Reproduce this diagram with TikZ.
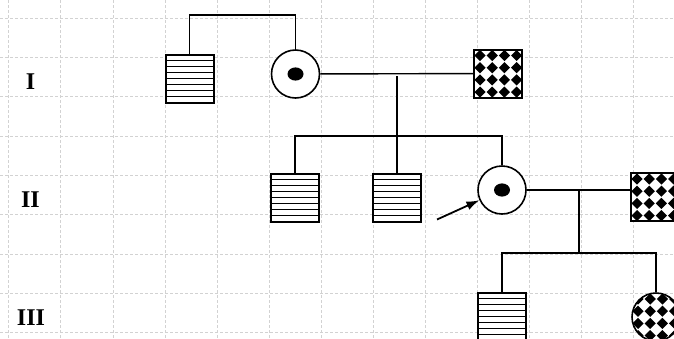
\documentclass[tikz,border=0pt]{standalone}
\usepackage{fontspec}
\setmainfont{Liberation Serif}
\usetikzlibrary{arrows.meta,calc}

\tikzstyle{gridline}=[
    gray!35,
    line width=0.5pt,
    dash pattern=on 3pt off 2pt,
  ]
\tikzstyle{male}=[
    draw,
    fill=white,
    line width=2pt,
    minimum size=48pt,
    inner sep=0pt,
  ]
\tikzstyle{female}=[
    draw,
    circle,
    fill=white,
    line width=1.6pt,
    minimum size=48pt,
    inner sep=0pt,
  ]
\tikzstyle{striped}=[
    path picture={
      \foreach \k in {1,...,7} {
        \draw[black, line width=1.1pt]
          ([yshift=-\k*6.05pt]path picture bounding box.north west) --
          ([yshift=-\k*6.05pt]path picture bounding box.north east);
      }
    },
  ]
\tikzstyle{checkered}=[
    path picture={
      \foreach \i in {0,...,3} {
        \foreach \j in {0,...,3} {
          \coordinate (c) at ([xshift=6pt+\i*12.2pt, yshift=-6pt-\j*12.2pt]path picture bounding box.north west);
          \fill[black] ($(c)+(0pt,5.6pt)$)
            .. controls ($(c)+(2.3pt,2.3pt)$) .. ($(c)+(5.6pt,0pt)$)
            .. controls ($(c)+(2.3pt,-2.3pt)$) .. ($(c)+(0pt,-5.6pt)$)
            .. controls ($(c)+(-2.3pt,-2.3pt)$) .. ($(c)+(-5.6pt,0pt)$)
            .. controls ($(c)+(-2.3pt,2.3pt)$) .. cycle;
        }
      }
    },
  ]
\tikzstyle{carrier}=[
    path picture={
      \fill[black] (path picture bounding box.center) ellipse [x radius=8pt, y radius=6.6pt];
    },
  ]
\tikzstyle{line}=[
    line width=1.4pt,
  ]
\tikzstyle{pointer}=[
    -{Latex[length=13pt,width=9pt]},
    line width=1.8pt,
  ]
\tikzstyle{gen}=[
    font=\fontsize{24}{28}\selectfont\bfseries,
    inner sep=0pt,
  ]

\begin{document}
\begin{tikzpicture}[x=1pt, y=-1pt]
      \useasboundingbox (0,0) rectangle (674,338);
      % grid
      \foreach \k in {0,...,12} {%
        \draw[gridline] (8.65+\k*52.05, 0) -- (8.65+\k*52.05, 338);
      }
      \foreach \k in {0,...,8} {%
        \draw[gridline] (0, 18+\k*39.3) -- (674, 18+\k*39.3);
      }
      % generations
      \node[gen] (g1) at (30.5, 82) {I};
      \node[gen] (g2) at (30.5, 200) {II};
      \node[gen] (g3) at (31, 318) {III};
      % connectors
      \coordinate (top) at (240, 15);
      \coordinate (m1) at (397, 76);
      \coordinate (sib1) at (397, 136);
      \coordinate (m2) at (579, 191);
      \coordinate (sib2) at (579, 253);
      \coordinate (ptr) at (437, 219.5);
      % people
      \node[male, striped] (I1) at (189.5, 78.5) {};
      \node[female, carrier] (I2) at (295.5, 74) {};
      \node[male, checkered] (I3) at (498, 73.5) {};
      \node[male, striped] (II1) at (295, 197.5) {};
      \node[male, striped] (II2) at (397, 197.5) {};
      \node[female, carrier] (II3) at (502, 190) {};
      \node[male, checkered] (II4) at (655, 197) {};
      \node[male, striped] (III1) at (502, 316.5) {};
      \node[female, checkered] (III2) at (656, 317) {};
      \draw[line] (I2) -- (I3);
      \draw[line] (I1.north) |- (top) -| (I2.north);
      \draw[line] (m1) -- (sib1) -- (II2.north);
      \draw[line] (II1.north) |- (sib1) -| (II3.north);
      \draw[line] (II3.east) -- (II4.west |- II3.east);
      \draw[line] (m2) -- (sib2);
      \draw[line] (III1.north) |- (sib2) -| (III2.north);
      \draw[pointer] (ptr) -- (II3);
    \end{tikzpicture}
\end{document}
